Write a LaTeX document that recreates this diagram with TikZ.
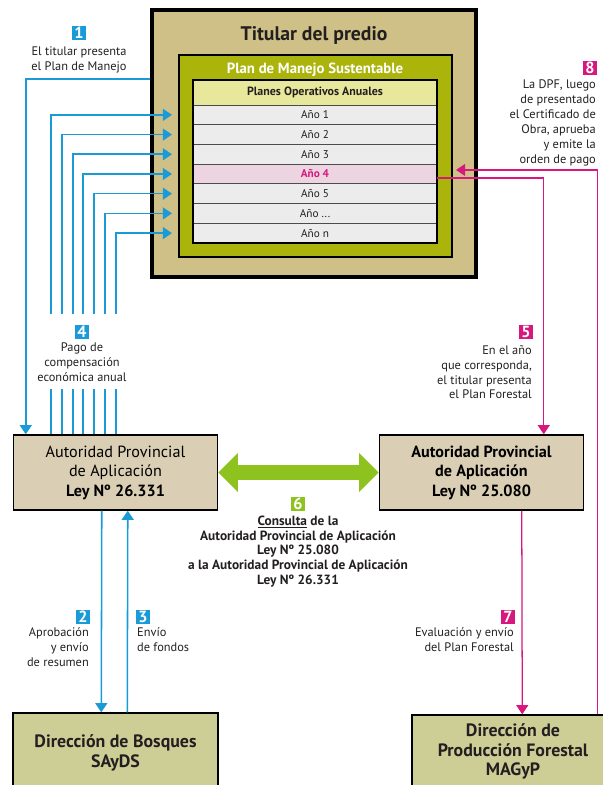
\documentclass[tikz,border=0pt]{standalone}
\usepackage{fontspec}
\setmainfont{PT Sans}
\usetikzlibrary{positioning,arrows.meta,calc}

\definecolor{titularfill}{RGB}{206,192,134}
\definecolor{planfill}{RGB}{170,180,10}
\definecolor{headfill}{RGB}{232,232,156}
\definecolor{rowfill}{RGB}{236,236,236}
\definecolor{rowpink}{RGB}{236,212,224}
\definecolor{autfill}{RGB}{218,207,180}
\definecolor{dirfill}{RGB}{205,205,150}
\definecolor{flowblue}{RGB}{26,155,215}
\definecolor{flowpink}{RGB}{214,24,127}
\definecolor{flowgreen}{RGB}{141,194,31}
\definecolor{textgray}{RGB}{35,31,32}

\begin{document}
\begin{tikzpicture}[x=0.025cm,y=-0.025cm,
  titular box/.style={draw=black,line width=2.6pt,fill=titularfill,minimum width=8.1cm,minimum height=6.675cm},
  plan box/.style={draw=black,line width=0.8pt,fill=planfill,minimum width=6.825cm,minimum height=5.05cm},
  head row/.style={draw=black!70,line width=0.6pt,fill=headfill,minimum width=6.1cm,minimum height=0.625cm,outer sep=0pt,inner sep=0pt,font=\bfseries\fontsize{8.5}{10}\selectfont,text=textgray},
  year row/.style={draw=black!70,line width=0.6pt,fill=rowfill,minimum width=6.1cm,minimum height=0.4925cm,outer sep=0pt,inner sep=0pt,font=\fontsize{8}{9}\selectfont,text=textgray},
  aut box/.style={draw=black,line width=1pt,fill=autfill,minimum width=5.1cm,minimum height=1.875cm,align=center,text=black,font=\fontsize{11.5}{13.8}\selectfont},
  dir box/.style={draw=black,line width=1pt,fill=dirfill,align=center,text=textgray,font=\bfseries\fontsize{12.7}{13.7}\selectfont},
  num node/.style={minimum size=0.36cm,inner sep=0pt,text=white,font=\bfseries\fontsize{11.5}{11.5}\selectfont},
  note node/.style={inner sep=1pt,text=textgray,font=\fontsize{8.8}{10.6}\selectfont},
  blue flow/.style={draw=flowblue,line width=1.1pt,-{Triangle[length=6.5pt,width=8.5pt]}},
  pink flow/.style={draw=flowpink,line width=0.9pt,-{Triangle[length=6.5pt,width=8.5pt]}},
  green flow/.style={draw=flowgreen,line width=10pt,>={Triangle[length=14pt,width=27pt]},<->}]

  \useasboundingbox (0,0) rectangle (603,785);

  % titular y plan de manejo
  \node[titular box] (titular) at (314,143.5) {};
  \node[text=textgray,font=\bfseries\fontsize{14}{16}\selectfont] (titulartext) at (314,35) {Titular del predio};
  \node[plan box] (plan) at (315.5,156) {};
  \node[text=white,font=\bfseries\fontsize{10.5}{12}\selectfont] (plantext) at (315,70) {Plan de Manejo Sustentable};

  \node[head row] (hdr) at (315,92.5) {Planes Operativos Anuales};
  \node[year row] (y1) [below=0pt of hdr] {Año 1};
  \node[year row] (y2) [below=0pt of y1] {Año 2};
  \node[year row] (y3) [below=0pt of y2] {Año 3};
  \node[year row,fill=rowpink,text=flowpink,font=\bfseries\fontsize{8}{9}\selectfont] (y4) [below=0pt of y3] {Año 4};
  \node[year row] (y5) [below=0pt of y4] {Año 5};
  \node[year row] (y6) [below=0pt of y5] {Año ...};
  \node[year row] (yn) [below=0pt of y6] {Año n};
  \draw[line width=1.3pt] (hdr.north west) rectangle (yn.south east);

  % autoridades y direcciones
  \node[aut box] (apa) at (115.5,472.5) {Autoridad Provincial\\de Aplicación\\\textbf{Ley Nº 26.331}};
  \node[aut box,font=\bfseries\fontsize{11.5}{13.8}\selectfont] (apb) at (481.5,472.5) {Autoridad Provincial\\de Aplicación\\Ley Nº 25.080};
  \node[dir box,minimum width=5.125cm,minimum height=2cm] (db) at (115.5,753) {Dirección de Bosques\\SAyDS};
  \node[dir box,minimum width=5.05cm,minimum height=1.825cm] (dpf) at (513,751.5) {Dirección de\\Producción Forestal\\MAGyP};

  % flujos azules
  \draw[blue flow] ($(titular.north west)+(0,71)$) -| ($(apa.north west)+(13,0)$);
  \draw[blue flow] ($(apa.north west)+(38,0)$) -- +(0,-45) ++(0,-120) |- ($(y1.west)+(-21,0)$);
  \draw[blue flow] ($(apa.north west)+(49,0)$) -- +(0,-45) ++(0,-120) |- ($(y2.west)+(-21,0)$);
  \draw[blue flow] ($(apa.north west)+(60,0)$) -- +(0,-45) ++(0,-120) |- ($(y3.west)+(-21,0)$);
  \draw[blue flow] ($(apa.north west)+(70,0)$) -- +(0,-45) ++(0,-120) |- ($(y4.west)+(-21,0)$);
  \draw[blue flow] ($(apa.north west)+(81,0)$) -- +(0,-45) ++(0,-120) |- ($(y5.west)+(-21,0)$);
  \draw[blue flow] ($(apa.north west)+(92,0)$) -- +(0,-45) ++(0,-120) |- ($(y6.west)+(-21,0)$);
  \draw[blue flow] ($(apa.north west)+(103,0)$) -- +(0,-45) ++(0,-120) |- ($(yn.west)+(-21,0)$);
  \draw[blue flow] ($(apa.south west)+(89,0)$) -- ($(db.north west)+(89,0)$);
  \draw[blue flow] ($(db.north west)+(115,0)$) -- ($(apa.south west)+(115,0)$);

  % flujos rosas y verde
  \draw[pink flow] ($(y4.east)+(0,4)$) -| ($(apb.north west)+(165,0)$);
  \draw[pink flow] ($(apb.south west)+(143,0)$) -- ($(dpf.north west)+(111,0)$);
  \draw[pink flow] ($(dpf.north west)+(186,0)$) |- ($(y4.east)+(19,-4)$);
  \draw[green flow] (apa.east) -- (apb.west);

  % etiquetas numeradas
  \node[num node,fill=flowblue] (n1) at (79,33) {1};
  \node[note node,align=center] (t1) [below=3pt of n1] {El titular presenta\\el Plan de Manejo};
  \node[num node,fill=flowblue] (n4) at (82,332) {4};
  \node[note node,align=center] (t4) [below=1pt of n4] {Pago de\\compensación\\económica anual};
  \node[num node,fill=flowblue] (n2) at (83,617) {2};
  \node[note node,align=right] (t2) [below=1pt of n2.south east,anchor=north east] {Aprobación\\y envío\\de resumen};
  \node[num node,fill=flowblue] (n3) at (143,617) {3};
  \node[note node,align=left] (t3) [below=1pt of n3.south west,anchor=north west] {Envío\\de fondos};
  \node[num node,fill=flowpink] (n5) at (526,332) {5};
  \node[note node,align=right] (t5) [below=3pt of n5.south east,anchor=north east] {En el año\\que corresponda,\\el titular presenta\\el Plan Forestal};
  \node[num node,fill=flowgreen] (n6) at (298,504) {6};
  \node[note node,align=center,font=\bfseries\fontsize{9.5}{10.4}\selectfont] (t6) [below=2pt of n6] {\underline{Consulta} de la\\Autoridad Provincial de Aplicación\\Ley Nº 25.080\\a la Autoridad Provincial de Aplicación\\Ley Nº 26.331};
  \node[num node,fill=flowpink] (n7) at (508,617) {7};
  \node[note node,align=right] (t7) [below=1pt of n7.south east,anchor=north east] {Evaluación y envío\\del Plan Forestal};
  \node[num node,fill=flowpink] (n8) at (590,68) {8};
  \node[note node,align=right] (t8) [below=2pt of n8.south east,anchor=north east] {La DPF, luego\\de presentado\\el Certificado de\\Obra, aprueba\\y emite la\\orden de pago};

\end{tikzpicture}
\end{document}
